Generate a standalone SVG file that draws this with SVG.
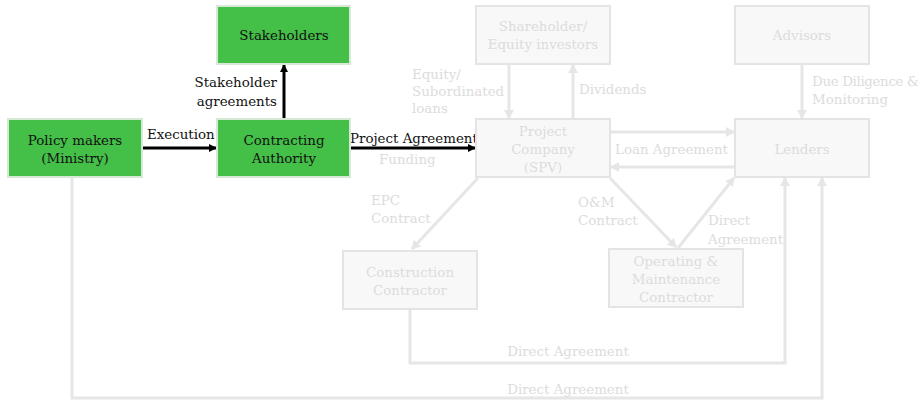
<svg xmlns="http://www.w3.org/2000/svg" width="923" height="404" viewBox="0 0 923 404">
<defs>
<style>
text{font-family:"DejaVu Serif","Liberation Serif",serif;font-size:13.4px}
.g rect{fill:#44bf48;stroke:#d6e8d6;stroke-width:2}
.g text{fill:#111;text-anchor:middle}
.f rect{fill:#f8f8f8;stroke:#e4e4e4;stroke-width:2}
.f text{fill:#dcdcdc;text-anchor:middle}
.bl{stroke:#000;stroke-width:3;fill:none}
.gl{stroke:#e6e6e6;stroke-width:3;fill:none}
.bt{fill:#111}
.gt{fill:#dcdcdc}
.sm{letter-spacing:-0.35px}
</style>
<marker id="ab" markerWidth="10" markerHeight="10" refX="7" refY="4" orient="auto" markerUnits="userSpaceOnUse"><path d="M0,0 L8,4 L0,8 Z" fill="#000"/></marker>
<marker id="ag" markerWidth="12" markerHeight="12" refX="8" refY="5" orient="auto" markerUnits="userSpaceOnUse"><path d="M0,0 L9,5 L0,10 Z" fill="#e6e6e6"/></marker>
</defs>
<g id="connectors">
<line class="bl" x1="142" y1="148" x2="216" y2="148" marker-end="url(#ab)"/>
<line class="bl" x1="284" y1="119" x2="284" y2="65" marker-end="url(#ab)"/>
<line class="bl" x1="350" y1="148" x2="475" y2="148" marker-end="url(#ab)"/>
<line class="gl" x1="509" y1="64" x2="509" y2="118" marker-end="url(#ag)"/>
<line class="gl" x1="573" y1="119" x2="573" y2="65" marker-end="url(#ag)"/>
<line class="gl" x1="610" y1="132" x2="734" y2="132" marker-end="url(#ag)"/>
<line class="gl" x1="735" y1="167" x2="611" y2="167" marker-end="url(#ag)"/>
<line class="gl" x1="802" y1="64" x2="802" y2="118" marker-end="url(#ag)"/>
<line class="gl" x1="478" y1="178" x2="412" y2="249" marker-end="url(#ag)"/>
<line class="gl" x1="610" y1="178" x2="676" y2="247" marker-end="url(#ag)"/>
<line class="gl" x1="678" y1="248" x2="734" y2="178" marker-end="url(#ag)"/>
<polyline class="gl" points="410,309 410,363 785,363 785,178" marker-end="url(#ag)"/>
<polyline class="gl" points="72,177 72,398 822,398 822,178" marker-end="url(#ag)"/>
<text class="bt" x="147" y="139">Execution</text>
<text class="bt" x="277" y="87" text-anchor="end">Stakeholder</text>
<text class="bt" x="277" y="106" text-anchor="end">agreements</text>
<text class="bt" x="350" y="143">Project Agreement</text>
<text class="gt" x="379" y="164">Funding</text>
<text class="gt" x="412" y="79">Equity/</text>
<text class="gt" x="412" y="96">Subordinated</text>
<text class="gt" x="412" y="113">loans</text>
<text class="gt" x="579" y="94">Dividends</text>
<text class="gt" x="615" y="154">Loan Agreement</text>
<text class="gt sm" x="812" y="86">Due Diligence &amp;</text>
<text class="gt" x="812" y="104">Monitoring</text>
<text class="gt" x="371" y="205">EPC</text>
<text class="gt" x="371" y="223">Contract</text>
<text class="gt" x="578" y="207">O&amp;M</text>
<text class="gt" x="578" y="225">Contract</text>
<text class="gt" x="708" y="225">Direct</text>
<text class="gt" x="708" y="244">Agreement</text>
<text class="gt" x="568" y="356" text-anchor="middle">Direct Agreement</text>
<text class="gt" x="568" y="394" text-anchor="middle">Direct Agreement</text>
</g>
<g id="stakeholders" class="g"><rect x="217" y="6" width="133" height="58"/><text x="284" y="40">Stakeholders</text></g>
<g id="policy" class="g"><rect x="8" y="119" width="134" height="58"/><text x="75" y="145">Policy makers</text><text x="75" y="163">(Ministry)</text></g>
<g id="authority" class="g"><rect x="217" y="119" width="133" height="58"/><text x="284" y="145">Contracting</text><text x="284" y="163">Authority</text></g>
<g id="shareholder" class="f"><rect x="476" y="6" width="134" height="58"/><text x="543" y="31">Shareholder/</text><text x="543" y="49">Equity investors</text></g>
<g id="advisors" class="f"><rect x="735" y="6" width="134" height="58"/><text x="802" y="40">Advisors</text></g>
<g id="spv" class="f"><rect x="476" y="119" width="134" height="58"/><text x="543" y="136">Project</text><text x="543" y="154">Company</text><text x="543" y="172">(SPV)</text></g>
<g id="lenders" class="f"><rect x="735" y="119" width="134" height="58"/><text x="802" y="154">Lenders</text></g>
<g id="construction" class="f"><rect x="343" y="251" width="134" height="58"/><text x="410" y="277">Construction</text><text x="410" y="295">Contractor</text></g>
<g id="om" class="f"><rect x="609" y="249" width="134" height="58"/><text x="676" y="266">Operating &amp;</text><text x="676" y="284">Maintenance</text><text x="676" y="302">Contractor</text></g>
</svg>
